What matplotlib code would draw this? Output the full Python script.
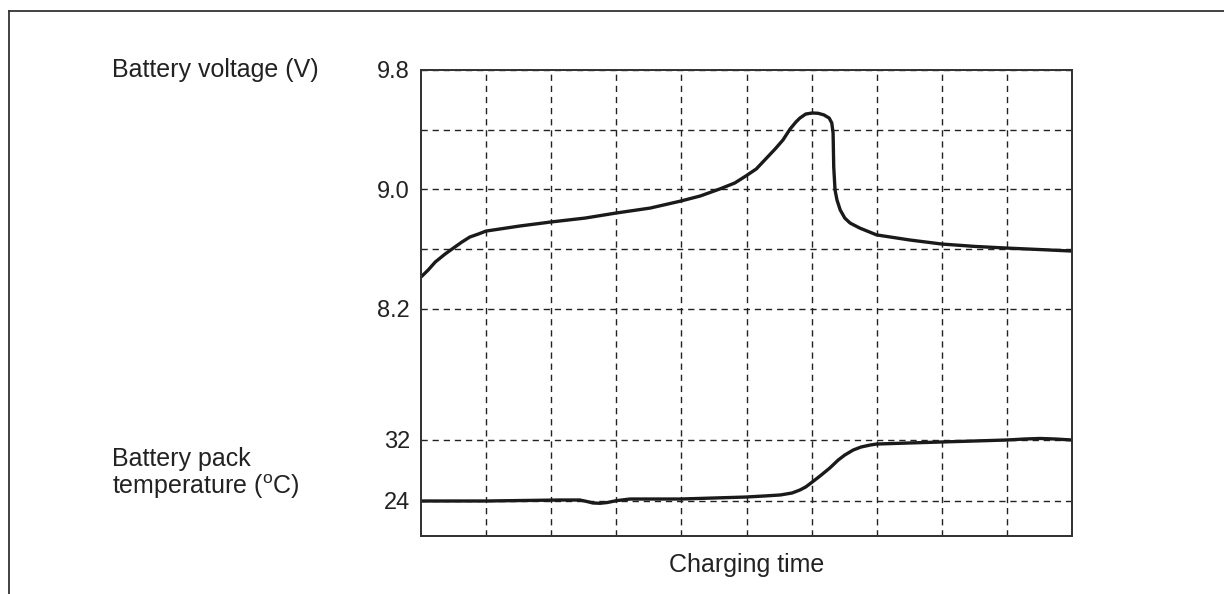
import matplotlib.pyplot as plt
from matplotlib.lines import Line2D

plt.rcParams['font.family'] = ['Liberation Sans', 'DejaVu Sans']
plt.rcParams['mathtext.fontset'] = 'custom'
plt.rcParams['mathtext.rm'] = 'Liberation Sans'

# charging time in grid divisions (0..10)
volt_time = [0, 0.11, 0.22, 0.37, 0.52, 0.63, 0.75, 0.88, 1.0, 1.52, 2.0, 2.52,
             3.0, 3.52, 3.99, 4.29, 4.59, 4.82, 4.99, 5.15, 5.28, 5.44, 5.56, 5.67,
             5.76, 5.82, 5.91, 6.01, 6.10, 6.19, 6.27, 6.31, 6.33, 6.34, 6.36, 6.39,
             6.44, 6.51, 6.59, 6.74, 7.0, 7.51, 8.0, 8.51, 9.0, 9.51, 10.0]
voltage = [8.413, 8.46, 8.514, 8.567, 8.614, 8.648, 8.681, 8.701, 8.721, 8.755, 8.782,
           8.808, 8.842, 8.875, 8.922, 8.956, 9.003, 9.043, 9.090, 9.137, 9.197, 9.271,
           9.331, 9.405, 9.452, 9.478, 9.505, 9.512, 9.510, 9.499, 9.478, 9.445, 9.378,
           9.150, 8.996, 8.929, 8.862, 8.808, 8.775, 8.741, 8.695, 8.661, 8.634, 8.618,
           8.607, 8.597, 8.587]

temp_time = [0, 1.0, 2.14, 2.44, 2.55, 2.64, 2.75, 2.86, 3.0, 3.21, 3.99, 4.99,
             5.28, 5.52, 5.70, 5.82, 5.91, 6.01, 6.13, 6.28, 6.41, 6.51, 6.64, 6.76,
             6.90, 7.0, 7.51, 8.0, 8.51, 9.0, 9.28, 9.51, 9.74, 10.0]
temperature = [24.0, 24.0, 24.13, 24.13, 23.93, 23.74, 23.70, 23.80, 24.04, 24.26,
               24.26, 24.52, 24.66, 24.79, 25.05, 25.44, 25.84, 26.49, 27.28, 28.33,
               29.38, 30.03, 30.69, 31.08, 31.34, 31.47, 31.61, 31.74, 31.87, 32.0,
               32.13, 32.20, 32.13, 32.0]

volt_ticks = [8.2, 8.6, 9.0, 9.4, 9.8]
volt_labels = ['8.2', '', '9.0', '', '9.8']
temp_ticks = [24, 32]
temp_labels = ['24', '32']

fig = plt.figure(figsize=(12.24, 5.94), dpi=100)
ax = fig.add_axes([421 / 1224, 1 - 536 / 594, 651 / 1224, 466 / 594])
ax2 = ax.twinx()

edge = '#333333'
ink = '#1a1a1a'
grid_kw = dict(color='#222222', linestyle=(0, (4.5, 3.5)), linewidth=1.0)

# voltage curve
ax.plot(volt_time, voltage, color=ink, lw=2.4, solid_capstyle='round',
        solid_joinstyle='round')
ax.set_xlim(0, 10)
ax.set_ylim(6.678, 9.8)
ax.set_xticks(range(1, 10))
ax.set_xticklabels([])
ax.set_yticks(volt_ticks)
ax.set_yticklabels(volt_labels)
ax.tick_params(length=0, labelsize=17, pad=8, colors='#222222')
ax.grid(True, **grid_kw)

# temperature curve, same box, own scale
ax2.plot(temp_time, temperature, color=ink, lw=2.4, solid_capstyle='round',
         solid_joinstyle='round')
ax2.set_ylim(19.41, 80.52)
ax2.set_yticks(temp_ticks)
ax2.set_yticklabels(temp_labels)
ax2.yaxis.tick_left()
ax2.tick_params(length=0, labelsize=17, pad=8, colors='#222222')
ax2.grid(True, axis='y', **grid_kw)

for a in (ax, ax2):
    for s in a.spines.values():
        s.set_color(edge)
        s.set_linewidth(1.3)

# labels
fig.text(112 / 1224, 1 - 70 / 594, 'Battery voltage (V)', fontsize=18,
         va='center', ha='left', color='#222222')
fig.text(112 / 1224, 1 - 474 / 594, 'Battery pack\ntemperature ($^{\\mathrm{o}}$C)',
         fontsize=18, va='center', ha='left', color='#222222', linespacing=1.1)
fig.text(747 / 1224, 1 - 565 / 594, 'Charging time', fontsize=18,
         va='center', ha='center', color='#222222')

# outer frame (left and top edges)
fig.add_artist(Line2D([9 / 1224, 9 / 1224], [0, 1 - 11 / 594],
                      transform=fig.transFigure, color=edge, lw=1.3))
fig.add_artist(Line2D([9 / 1224, 1], [1 - 11 / 594, 1 - 11 / 594],
                      transform=fig.transFigure, color=edge, lw=1.3))

fig.savefig('out.png', dpi=100)
